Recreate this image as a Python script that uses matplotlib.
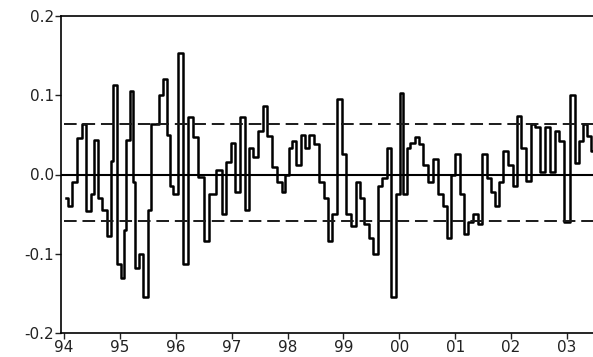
import matplotlib.pyplot as plt
import numpy as np

# series read as (decimal year offset from 1994, value)
t_offset = [0.04, 0.107, 0.196, 0.285, 0.356, 0.445, 0.516, 0.569, 0.641, 0.730,
            0.819, 0.854, 0.907, 0.979, 1.050, 1.085, 1.139, 1.210, 1.246, 1.299,
            1.370, 1.459, 1.530, 1.584, 1.673, 1.744, 1.815, 1.868, 1.922, 1.993,
            2.100, 2.171, 2.260, 2.349, 2.456, 2.544, 2.633, 2.794, 2.865, 2.936,
            3.025, 3.096, 3.203, 3.274, 3.345, 3.434, 3.523, 3.594, 3.683, 3.772,
            3.861, 3.932, 3.986, 4.057, 4.110, 4.199, 4.270, 4.342, 4.431, 4.520,
            4.609, 4.680, 4.769, 4.840, 4.947, 5.000, 5.089, 5.178, 5.267, 5.338,
            5.409, 5.498, 5.569, 5.658, 5.730, 5.819, 5.890, 5.979, 6.032, 6.103,
            6.157, 6.228, 6.317, 6.388, 6.477, 6.548, 6.655, 6.744, 6.815, 6.904,
            6.957, 7.046, 7.117, 7.189, 7.278, 7.367, 7.438, 7.527, 7.598, 7.669,
            7.740, 7.829, 7.900, 7.989, 8.078, 8.149, 8.221, 8.310, 8.399, 8.470,
            8.559, 8.648, 8.754, 8.826, 8.897, 9.004, 9.093, 9.181, 9.253, 9.324,
            9.395, 9.45]
values = [-0.030, -0.040, -0.010, 0.046, 0.064, -0.046, -0.025, 0.043, -0.030, -0.045,
          -0.077, 0.017, 0.113, -0.113, -0.130, -0.070, 0.043, 0.105, -0.010, -0.118,
          -0.100, -0.155, -0.045, 0.064, 0.064, 0.100, 0.120, 0.050, -0.015, -0.025,
          0.153, -0.113, 0.073, 0.047, -0.003, -0.084, -0.025, 0.006, -0.050, 0.016,
          0.040, -0.022, 0.073, -0.045, 0.034, 0.022, 0.055, 0.087, 0.048, 0.010,
          -0.010, -0.022, 0.000, 0.034, 0.042, 0.012, 0.050, 0.034, 0.050, 0.038,
          -0.010, -0.030, -0.084, -0.050, 0.095, 0.026, -0.050, -0.065, -0.010, -0.030,
          -0.063, -0.080, -0.100, -0.015, -0.005, 0.034, -0.155, -0.025, 0.103, -0.025,
          0.034, 0.040, 0.047, 0.038, 0.012, -0.010, 0.020, -0.025, -0.040, -0.080,
          0.000, 0.026, -0.025, -0.075, -0.060, -0.050, -0.063, 0.026, -0.005, -0.022,
          -0.040, -0.010, 0.030, 0.012, -0.015, 0.074, 0.034, -0.008, 0.064, 0.060,
          0.003, 0.060, 0.003, 0.055, 0.042, -0.060, 0.100, 0.015, 0.042, 0.064,
          0.048, 0.030]

upper_band = 0.064
lower_band = -0.059
year_labels = ["94", "95", "96", "97", "98", "99", "00", "01", "02", "03"]

t = 1994 + np.array(t_offset)
years = 1994 + np.arange(len(year_labels))

fig = plt.figure(figsize=(5.93, 3.57), dpi=100)
ax = fig.add_axes([61 / 593, 24 / 357, 1 - 61 / 593, 317 / 357])

ax.plot(t, values, color="black", lw=1.8, drawstyle="steps-mid")
ax.axhline(0, color="black", lw=1.5)
ax.hlines([upper_band, lower_band], 1994.0, 1994 + 9.6, colors="#1a1a1a",
          linestyles=(0, (6.5, 3)), lw=1.4)

ax.set_xlim(1994 - 3 / 56.2, 1994 + 532 / 56.2)
ax.set_ylim(-0.2, 0.2)
ax.set_yticks([-0.2, -0.1, 0.0, 0.1, 0.2])
ax.set_yticklabels(["-0.2", "-0.1", "0.0", "0.1", "0.2"])
ax.set_xticks(years)
ax.set_xticklabels(year_labels)
ax.spines["right"].set_visible(False)
for s in ["left", "top", "bottom"]:
    ax.spines[s].set_linewidth(1.2)
ax.tick_params(axis="both", direction="out", length=4, width=1, labelsize=11,
               colors="#222222", pad=1)

fig.savefig("out.png", dpi=100)
